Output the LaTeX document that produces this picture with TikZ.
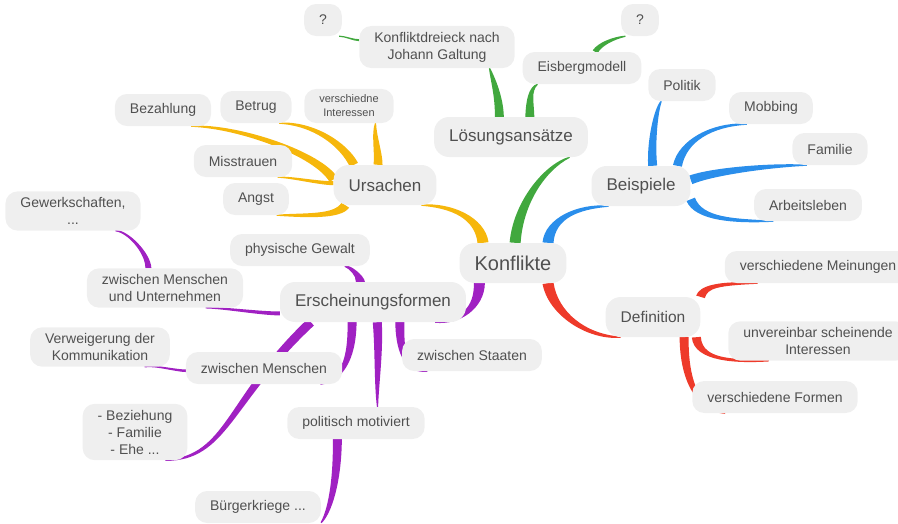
\documentclass[tikz,border=0pt]{standalone}
\usepackage{fontspec}
\setmainfont{Liberation Sans}
\usetikzlibrary{calc,positioning}

\definecolor{bubble}{HTML}{EFEFEF}
\definecolor{ink}{HTML}{505050}
\definecolor{yel}{HTML}{F6B70C}
\definecolor{grn}{HTML}{41A83E}
\definecolor{blu}{HTML}{2A8EEB}
\definecolor{rot}{HTML}{EE3A2A}
\definecolor{lila}{HTML}{A021C2}

% tapered branch: colour, from, control offset at start, control offset at end, to, half width
\newcommand{\twig}[6]{%
  \path (#2) coordinate (tw-a) (#5) coordinate (tw-b);
  \path ($(tw-a)+#3$) coordinate (tw-c) ($(tw-b)+#4$) coordinate (tw-d);
  \fill[#1] ($(tw-a)!#6!90:(tw-c)$)
    .. controls ($(tw-c)!0.9*#6!-90:(tw-a)$) and ($(tw-d)!0.55*#6!90:(tw-b)$) .. ($(tw-b)!0.6pt!-90:(tw-d)$)
    -- ($(tw-b)!0.6pt!90:(tw-d)$)
    .. controls ($(tw-d)!0.55*#6!-90:(tw-b)$) and ($(tw-c)!0.9*#6!90:(tw-a)$) .. ($(tw-a)!#6!-90:(tw-c)$) -- cycle;
}

\begin{document}
\begin{tikzpicture}[x=1pt,y=-1pt]
		\pgfdeclarelayer{bg}    % branches go behind the bubbles
		\pgfsetlayers{bg,main}
		
		\tikzstyle{leaf} = [fill=bubble,text=ink,rounded corners=12pt,inner xsep=15pt,inner ysep=6pt,minimum height=32pt,align=center,font=\fontsize{14}{17}\selectfont]
		\tikzstyle{topic} = [leaf,rounded corners=15pt,minimum height=40pt,font=\fontsize{17}{20}\selectfont]
		\tikzstyle{hub} = [topic,font=\fontsize{20}{24}\selectfont]
		
		\useasboundingbox (0,0) rectangle (898,523);
		
		% Centre and main topics
		\node [hub] (konflikte) at (513,263) {Konflikte};
		\node [topic] (loesung) at (511,137) {Lösungsansätze};
		\node [topic] (ursachen) at (385,185) {Ursachen};
		\node [topic] (beispiele) at (641,186) {Beispiele};
		\node [topic] (ersch) at (373,302) {Erscheinungsformen};
		\node [topic, font=\fontsize{15.5}{18}\selectfont] (definition) at (653,317) {Definition};
		
		% Lösungsansätze
		\node [leaf] (qlinks) at (323,20) {?};
		\node [leaf] (dreieck) at (437,47) {Konfliktdreieck nach\\Johann Galtung};
		\node [leaf] (qrechts) at (640,20) {?};
		\node [leaf] (eisberg) at (582,68) {Eisbergmodell};
		
		% Ursachen
		\node [leaf] (bezahlung) at (163,110) {Bezahlung};
		\node [leaf] (betrug) at (256,107) {Betrug};
		\node [leaf, font=\fontsize{11}{14}\selectfont] (interessen) at (349,106) {verschiedne\\Interessen};
		\node [leaf] (misstrauen) at (243,161) {Misstrauen};
		\node [leaf] (angst) at (256,199) {Angst};
		
		% Beispiele
		\node [leaf] (politik) at (682,85) {Politik};
		\node [leaf] (mobbing) at (771,108) {Mobbing};
		\node [leaf] (familie) at (830,149) {Familie};
		\node [leaf] (arbeit) at (808,205) {Arbeitsleben};
		
		% Erscheinungsformen
		\node [leaf] (gewerk) at (73,211) {Gewerkschaften,\\...};
		\node [leaf] (menschunt) at (165,288) {zwischen Menschen\\und Unternehmen};
		\node [leaf] (gewalt) at (300,250) {physische Gewalt};
		\node [leaf] (verweig) at (100,347) {Verweigerung der\\Kommunikation};
		\node [leaf] (menschen) at (264,368) {zwischen Menschen};
		\node [leaf] (beziehung) at (135,432) {- Beziehung\\- Familie\\- Ehe ...};
		\node [leaf] (politisch) at (356,423) {politisch motiviert};
		\node [leaf] (buerger) at (258,507) {Bürgerkriege ...};
		\node [leaf] (staaten) at (472,355) {zwischen Staaten};
		
		% Definition
		\node [leaf] (meinungen) at (818,267) {verschiedene Meinungen};
		\node [leaf] (unvereinbar) at (818,341) {unvereinbar scheinende\\Interessen};
		\node [leaf] (formen) at (775,397) {verschiedene Formen};
		
		\begin{pgfonlayer}{bg}    % select the background layer
		  \twig{yel}{konflikte.146}{(-3,-25)}{(30,0)}{ursachen.331}{5.5pt}
		  \twig{grn}{konflikte.84}{(3,-40)}{(-25,10)}{loesung.341}{5.5pt}
		  \twig{blu}{konflikte.30}{(2,-25)}{(-30,0)}{beispiele.212}{5.5pt}
		  \twig{lila}{konflikte.211}{(0,25)}{(25,0)}{ersch.342}{5.5pt}
		  \twig{rot}{konflikte.330}{(5,30)}{(-35,0)}{definition.212}{5.5pt}
		  
		  \twig{grn}{loesung.120}{(0,-20)}{(3,10)}{dreieck.338}{4.5pt}
		  \twig{grn}{loesung.47}{(0,-15)}{(-8,5)}{eisberg.200}{4.5pt}
		  \twig{grn}{eisberg.51}{(5,-8)}{(-12,2)}{qrechts.228}{2.8pt}
		  \twig{grn}{dreieck.175}{(-6,0)}{(6,0)}{qlinks.315}{1pt}
		  
		  \twig{yel}{ursachen.174}{(-15,-25)}{(50,0)}{bezahlung.330}{4.5pt}
		  \twig{yel}{ursachen.147}{(-10,-20)}{(35,0)}{betrug.325}{4.5pt}
		  \twig{yel}{ursachen.109}{(1,-10)}{(-2,10)}{interessen.327}{4.5pt}
		  \twig{yel}{ursachen.178}{(-15,0)}{(15,0)}{misstrauen.335}{2pt}
		  \twig{yel}{ursachen.207}{(-8,12)}{(30,0)}{angst.322}{4.5pt}
		  
		  \twig{blu}{beispiele.60}{(-2,-25)}{(-5,8)}{politik.218}{4.5pt}
		  \twig{blu}{beispiele.29}{(5,-25)}{(-35,0)}{mobbing.214}{4.5pt}
		  \twig{blu}{beispiele.7}{(20,-8)}{(-40,0)}{familie.215}{4.5pt}
		  \twig{blu}{beispiele.345}{(8,20)}{(-40,0)}{arbeit.205}{4.5pt}
		  
		  \twig{lila}{ersch.122}{(0,-6)}{(5,0)}{gewalt.340}{4.5pt}
		  \twig{lila}{ersch.187}{(-20,0)}{(20,0)}{menschunt.334}{2pt}
		  \twig{lila}{menschunt.130}{(0,-15)}{(12,0)}{gewerk.335}{3pt}
		  \twig{lila}{ersch.198}{(-83,78)}{(62,-2)}{beziehung.317}{4.5pt}
		  \twig{lila}{menschen.182}{(-10,0)}{(10,-2)}{verweig.336}{1.3pt}
		  \twig{lila}{ersch.224}{(0,40)}{(20,-5)}{menschen.344}{4.5pt}
		  \twig{lila}{ersch.282}{(2,30)}{(-1,-25)}{politisch.37}{4.5pt}
		  \twig{lila}{ersch.323}{(0,35)}{(-20,0)}{staaten.200}{4.5pt}
		  \twig{lila}{politisch.221}{(0,45)}{(8,-10)}{buerger.346}{4.5pt}
		  
		  \twig{rot}{definition.23}{(3,-10)}{(-40,0)}{meinungen.195}{4.5pt}
		  \twig{rot}{definition.335}{(2,25)}{(-30,0)}{unvereinbar.202}{4.5pt}
		  \twig{rot}{definition.327}{(0,55)}{(-20,-3)}{formen.198}{4.5pt}
		\end{pgfonlayer}
	\end{tikzpicture}
\end{document}
